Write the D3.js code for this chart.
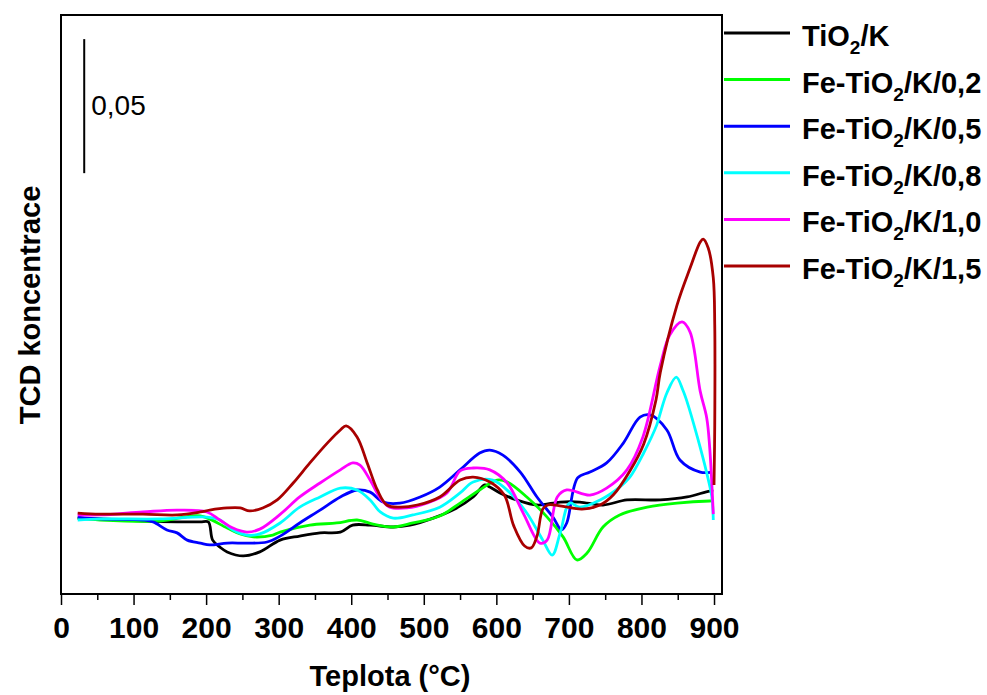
<!DOCTYPE html>
<html>
<head>
<meta charset="utf-8">
<script src="https://cdn.jsdelivr.net/npm/d3@7"></script>
<style>
  html, body { margin: 0; padding: 0; background: #fff; }
  svg { display: block; font-family: Arial, "Liberation Sans", sans-serif; }
</style>
</head>
<body>
<svg id="chart" width="987" height="695"></svg>
<script>
// TPR profiles: TCD signal versus temperature (°C)
const tTiO2 = [23,54,113,160,192,203,209,219,229,251,274,302,329,357,385,402,426,458,481,513,540,568,584,591,605,628,656,688,715,747,780,826,863,894,899];
const vTiO2 = [0.0007,0.0004,-0.0004,-0.0007,-0.0007,-0.0007,-0.0075,-0.0101,-0.0119,-0.0134,-0.0119,-0.0075,-0.0060,-0.0048,-0.0045,-0.0019,-0.0019,-0.0026,-0.0019,0.0007,0.0037,0.0086,0.0131,0.0123,0.0101,0.0075,0.0056,0.0067,0.0067,0.0056,0.0075,0.0075,0.0086,0.0108,0.0108];

const tFe02 = [23,54,136,192,229,247,265,292,302,343,380,408,430,458,485,522,550,577,601,615,642,670,692,711,725,747,770,808,849,894,899];
const vFe02 = [0.0007,0,-0.0004,0.0015,-0.0030,-0.0052,-0.0063,-0.0056,-0.0045,-0.0019,-0.0011,0,-0.0015,-0.0026,-0.0011,0.0015,0.0063,0.0112,0.0149,0.0142,0.0086,0.0011,-0.0063,-0.0149,-0.0123,-0.0026,0.0019,0.0048,0.0063,0.0071,0.0071];

const tFe05 = [23,54,113,127,146,160,174,192,205,229,256,284,302,329,357,385,408,426,444,467,495,522,550,577,591,609,633,656,678,690,697,712,729,752,775,798,812,835,853,881,897];
const vFe05 = [0.0011,0.0004,0,-0.0007,-0.0037,-0.0048,-0.0075,-0.0086,-0.0093,-0.0086,-0.0086,-0.0082,-0.0060,-0.0011,0.0037,0.0086,0.0112,0.0104,0.0067,0.0063,0.0086,0.0123,0.0187,0.0250,0.0261,0.0242,0.0179,0.0086,0.0011,-0.0037,-0.0011,0.0157,0.0179,0.0213,0.0287,0.0384,0.0392,0.0336,0.0224,0.0179,0.0179];

const tFe08 = [23,54,136,201,219,237,256,274,302,329,357,385,408,426,440,458,485,522,550,568,595,619,642,664,677,688,701,715,743,770,784,803,821,826,835,848,857,863,877,890,897,899];
const vFe08 = [0,0.0004,0.0004,0.0011,0,-0.0037,-0.0056,-0.0052,-0.0011,0.0048,0.0086,0.0119,0.0112,0.0075,0.0030,0.0007,0.0019,0.0048,0.0101,0.0142,0.0149,0.0101,0.0026,-0.0075,-0.0131,-0.0048,0.0063,0.0048,0.0075,0.0123,0.0160,0.0250,0.0354,0.0399,0.0474,0.0533,0.0485,0.0440,0.0310,0.0175,0.0086,0];

const tFe10 = [23,54,113,160,201,219,237,256,274,302,329,357,385,402,412,426,440,453,477,504,532,550,568,591,615,637,660,670,684,697,729,752,780,802,826,839,856,867,881,890,894,899];
const vFe10 = [0.0019,0.0019,0.0030,0.0037,0.0030,0,-0.0030,-0.0045,-0.0034,0.0021,0.0086,0.0138,0.0187,0.0213,0.0205,0.0149,0.0082,0.0048,0.0045,0.0063,0.0101,0.0183,0.0194,0.0187,0.0138,0.0026,-0.0086,-0.0075,0.0086,0.0112,0.0093,0.0119,0.0187,0.0310,0.0578,0.0690,0.0739,0.0701,0.0480,0.0380,0.0272,0.0022];

const tFe15 = [23,54,113,160,192,205,229,247,260,278,298,320,343,367,385,393,408,422,436,449,467,491,522,550,568,591,611,624,639,648,656,664,671,690,718,743,761,784,803,820,826,849,867,881,885,892,899,901,901,900];
const vFe15 = [0.0026,0.0022,0.0022,0.0019,0.0030,0.0037,0.0045,0.0045,0.0034,0.0045,0.0075,0.0138,0.0213,0.0287,0.0336,0.0351,0.0310,0.0213,0.0112,0.0056,0.0048,0.0056,0.0086,0.0149,0.0160,0.0142,0.0093,-0.0022,-0.0097,-0.0104,-0.0060,0.0041,0.0056,0.0052,0.0041,0.0056,0.0093,0.0183,0.0283,0.0448,0.0551,0.0802,0.0940,0.1037,0.1048,0.1015,0.0903,0.0727,0.0354,0.0131];

// legend labels: [before subscript, subscript, after subscript]
const labels = [
  ["TiO", "2", "/K"],
  ["Fe-TiO", "2", "/K/0,2"],
  ["Fe-TiO", "2", "/K/0,5"],
  ["Fe-TiO", "2", "/K/0,8"],
  ["Fe-TiO", "2", "/K/1,0"],
  ["Fe-TiO", "2", "/K/1,5"]
];
const colors = ["#000000", "#00ff00", "#0000ff", "#00ffff", "#ff00ff", "#a80000"];
const temps = [tTiO2, tFe02, tFe05, tFe08, tFe10, tFe15];
const values = [vTiO2, vFe02, vFe05, vFe08, vFe10, vFe15];

const xTicks = [0, 100, 200, 300, 400, 500, 600, 700, 800, 900];
const xMinorTicks = [50, 150, 250, 350, 450, 550, 650, 750, 850];

// vertical scale bar
const barValue = 0.05;
const barTop = 0.1794;
const barAt = 32;
const barLabel = "0,05";

const svg = d3.select("#chart");
const m = { left: 61, right: 722, top: 15, bottom: 594 };

const x = d3.scaleLinear().domain([0, 911]).range([m.left, m.right]);
const y = d3.scaleLinear().domain([-0.0276, 0.1884]).range([m.bottom, m.top]);

// x axis: major ticks with labels, minor ticks without
const gx = svg.append("g").attr("transform", `translate(0,${m.bottom})`)
  .call(d3.axisBottom(x).tickValues(xTicks).tickSize(11).tickPadding(12).tickFormat(d3.format("d")));
gx.select(".domain").remove();
gx.selectAll(".tick line").attr("stroke", "#000").attr("stroke-width", 1.5);
gx.selectAll(".tick text")
  .attr("fill", "#000")
  .style("font-size", "30px")
  .style("font-weight", "bold")
  .style("font-family", "Arial, 'Liberation Sans', sans-serif");

const gm = svg.append("g").attr("transform", `translate(0,${m.bottom})`)
  .call(d3.axisBottom(x).tickValues(xMinorTicks).tickSize(6).tickFormat(""));
gm.select(".domain").remove();
gm.selectAll(".tick line").attr("stroke", "#000").attr("stroke-width", 1.5);

// series
const line = d3.line()
  .x(d => x(d[0]))
  .y(d => y(d[1]))
  .curve(d3.curveCatmullRom.alpha(0.5));

const plot = svg.append("g");
temps.forEach((ts, i) => {
  const pts = ts.map((t, j) => [t, values[i][j]]);
  plot.append("path")
    .datum(pts)
    .attr("fill", "none")
    .attr("stroke", colors[i])
    .attr("stroke-width", 2.8)
    .attr("stroke-linejoin", "round")
    .attr("d", line);
});

// frame
svg.append("rect")
  .attr("x", m.left).attr("y", m.top)
  .attr("width", m.right - m.left).attr("height", m.bottom - m.top)
  .attr("fill", "none").attr("stroke", "#000").attr("stroke-width", 2);

// scale bar
svg.append("line")
  .attr("x1", x(barAt)).attr("x2", x(barAt))
  .attr("y1", y(barTop)).attr("y2", y(barTop - barValue))
  .attr("stroke", "#000").attr("stroke-width", 2);
svg.append("text")
  .attr("x", x(barAt) + 7).attr("y", 115)
  .style("font-size", "28px")
  .text(barLabel);

// axis titles
svg.append("text")
  .attr("x", 390).attr("y", 686)
  .attr("text-anchor", "middle")
  .style("font-size", "29px").style("font-weight", "bold")
  .text("Teplota (°C)");

svg.append("text")
  .attr("transform", "translate(40,305) rotate(-90)")
  .attr("text-anchor", "middle")
  .style("font-size", "29px").style("font-weight", "bold")
  .text("TCD koncentrace");

// legend
const legend = svg.append("g");
const legendY0 = 33, legendStep = 46.6;
labels.forEach((lab, i) => {
  const ly = legendY0 + i * legendStep;
  legend.append("line")
    .attr("x1", 724).attr("x2", 790)
    .attr("y1", ly).attr("y2", ly)
    .attr("stroke", colors[i]).attr("stroke-width", 3);
  const t = legend.append("text")
    .attr("x", 802).attr("y", ly + 13)
    .style("font-size", "29px").style("font-weight", "bold");
  t.append("tspan").text(lab[0]);
  t.append("tspan").attr("dy", 8).style("font-size", "19px").text(lab[1]);
  t.append("tspan").attr("dy", -8).text(lab[2]);
});
</script>
</body>
</html>
